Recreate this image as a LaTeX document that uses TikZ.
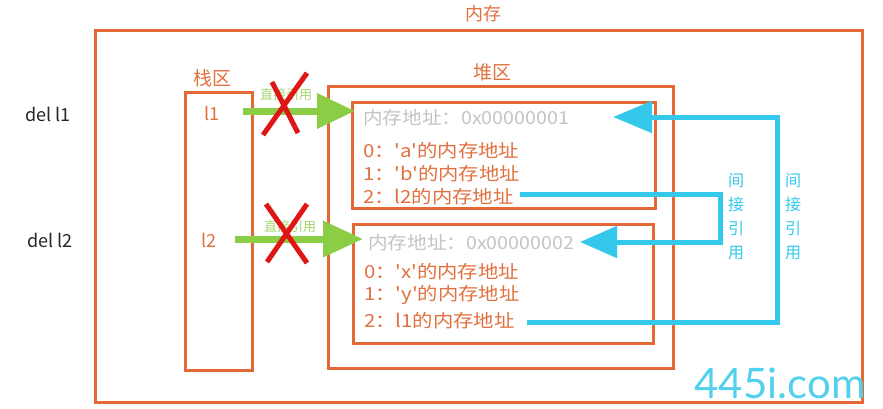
\documentclass[tikz,border=0pt]{standalone}
\usepackage{fontspec}
\setmainfont{Noto Sans CJK SC}[Ligatures=TeXOff]
\newfontfamily\listfont{Noto Sans CJK SC}[Ligatures=TeXOff, FakeStretch=1.13]
\newfontfamily\addrfont{Noto Sans CJK SC}[Ligatures=TeXOff, FakeStretch=1.09]
\newfontfamily\wmfont{Lato}
\usetikzlibrary{arrows.meta}
\definecolor{boxor}{RGB}{228,104,52}
\definecolor{textor}{RGB}{226,112,62}
\definecolor{graytx}{RGB}{196,196,196}
\definecolor{grarrow}{RGB}{140,205,70}
\definecolor{grlabel}{RGB}{165,215,110}
\definecolor{cyarrow}{RGB}{52,200,234}
\definecolor{redx}{RGB}{222,22,22}
\begin{document}
\begin{tikzpicture}[x=1pt,y=-1pt,
  box/.style={draw=boxor, line width=3pt, inner sep=0pt, rectangle},
  ortext/.style={text=textor, font=\listfont\fontsize{18}{20}\selectfont, anchor=base west, inner sep=0pt},
  grtext/.style={ortext, text=graytx, font=\addrfont\fontsize{18}{20}\selectfont},
  title/.style={text=textor, font=\fontsize{18}{20}\selectfont, inner sep=0pt},
  deltext/.style={text=black!85, font=\fontsize{18}{20}\selectfont, inner sep=0pt},
  directlbl/.style={text=grlabel, font=\fontsize{13}{15}\selectfont, inner sep=0pt},
  indirectlbl/.style={text=cyarrow, font=\fontsize{16}{24}\selectfont, align=center, inner sep=0pt},
  directarrow/.style={draw=grarrow, line width=7pt, -{Triangle[length=38pt,width=34pt]}},
  indirectarrow/.style={draw=cyarrow, line width=5pt, line join=miter, -{Triangle[length=38pt,width=31pt]}},
  cross/.style={draw=redx, line width=5pt},
]
\useasboundingbox[fill=white] (0,0) rectangle (883,408);

% boxes
\node[box, minimum width=767pt, minimum height=372pt] (mem) at (478.5,216.5) {};
\node[box, minimum width=67.5pt, minimum height=278pt] (stack) at (218.75,231) {};
\node[box, minimum width=345pt, minimum height=282pt] (heap) at (500.5,227) {};
\node[box, minimum width=303pt, minimum height=106pt] (obj1) at (503.5,155) {};
\node[box, minimum width=300pt, minimum height=119pt] (obj2) at (503,283.5) {};

% titles
\node[title] (memt) at (483,14) {内存};
\node[title, font=\fontsize{19}{21}\selectfont] (stackt) at (212,78) {栈区};
\node[title, font=\fontsize{19}{21}\selectfont] (heapt) at (492,72) {堆区};

% stack variables
\node[title] (l1) at (212,113) {l1};
\node[title] (l2) at (209,240) {l2};

% del labels
\node[deltext] (del1) at (48,114) {del l1};
\node[deltext] (del2) at (50,240) {del l2};

% object 1 contents
\node[grtext] (addr1) at (363,124) {内存地址：0x00000001};
\node[ortext] (a1) at (363,157) {0：'a'的内存地址};
\node[ortext] (b1) at (363,180) {1：'b'的内存地址};
\node[ortext] (c1) at (363,203) {2：l2的内存地址};

% object 2 contents
\node[grtext] (addr2) at (368,249) {内存地址：0x00000002};
\node[ortext] (x2) at (364,278) {0：'x'的内存地址};
\node[ortext] (y2) at (364,300) {1：'y'的内存地址};
\node[ortext] (c2) at (364,327) {2：l1的内存地址};

% direct references
\coordinate (g1s) at (243,111);
\coordinate (g1e) at (355,111);
\coordinate (g2s) at (235,239);
\coordinate (g2e) at (363,239);
\draw[directarrow] (g1s) -- (g1e);
\draw[directarrow, -{Triangle[length=40pt,width=35pt]}] (g2s) -- (g2e);
\node[directlbl] (dl1) at (286,95) {直接引用};
\node[directlbl] (dl2) at (290,227) {直接引用};

% crosses
\coordinate (x1a) at (263,135); \coordinate (x1b) at (307,73);
\coordinate (x1c) at (272,82);  \coordinate (x1d) at (298,133);
\coordinate (x2a) at (267,262); \coordinate (x2b) at (307,204);
\coordinate (x2c) at (266,204); \coordinate (x2d) at (307,263);
\draw[cross] (x1a) -- (x1b);
\draw[cross] (x1c) -- (x1d);
\draw[cross] (x2a) -- (x2b);
\draw[cross] (x2c) -- (x2d);

% indirect references
\coordinate (i1s) at (527,322);
\coordinate (i1e) at (613,117);
\coordinate (i2s) at (520,194);
\coordinate (i2e) at (580,242);
\draw[indirectarrow, -{Triangle[length=39pt,width=31pt]}] (i1s) -- (777,322) -- (777,117) -- (i1e);
\draw[indirectarrow, -{Triangle[length=37pt,width=31pt]}] (i2s) -- (720,194) -- (720,242) -- (i2e);
\node[indirectlbl] (il2) at (736,217) {间\\接\\引\\用};
\node[indirectlbl] (il1) at (793,217) {间\\接\\引\\用};

% watermark
\node[text=cyarrow!85, font=\wmfont\fontsize{42}{44}\selectfont, inner sep=0pt] (wm) at (780,383) {445i.com};
\end{tikzpicture}
\end{document}
